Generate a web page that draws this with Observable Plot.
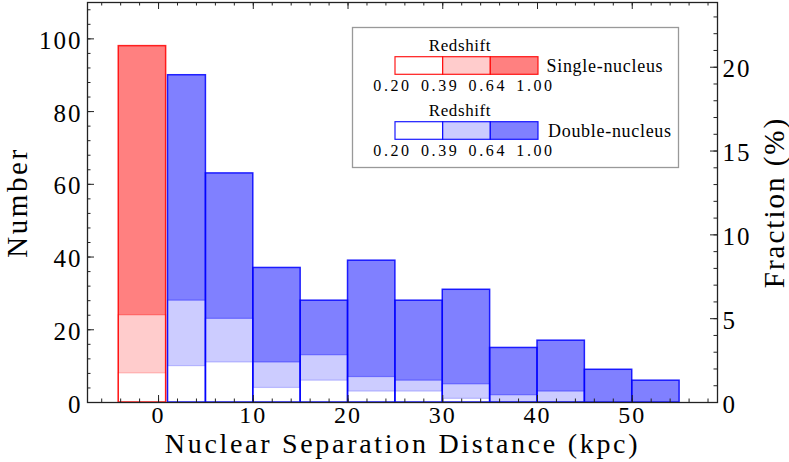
<!DOCTYPE html>
<html><head><meta charset="utf-8">
<script src="https://cdn.jsdelivr.net/npm/d3@7"></script>
<script src="https://cdn.jsdelivr.net/npm/@observablehq/plot@0.6"></script>
<style>
body{margin:0;background:#fff;}
#wrap{position:relative;width:789px;height:462px;}
#wrap svg.legend{position:absolute;left:0;top:0;pointer-events:none;}
</style></head><body><div id="wrap"></div>
<script>
// ---- data ----
const singleStart = [-4.2];
const singleEnd   = [0.8];
const singleAll   = [98];   // z < 1.00
const singleLt064 = [24];   // z < 0.64
const singleLt039 = [8];    // z < 0.39

const doubleStart = [1, 5, 10, 15, 20, 25, 30, 35, 40, 45, 50];
const doubleEnd   = [5, 10, 15, 20, 25, 30, 35, 40, 45, 50, 55];
const doubleAll   = [90, 63, 37, 28, 39, 28, 31, 15, 17, 9, 6];
const doubleLt064 = [28, 23, 11, 13, 7, 6, 5, 2, 3, 0, 0];
const doubleLt039 = [10, 11, 4, 6, 3, 3, 1, 0, 0, 0, 0];

const redshiftLabels = ["0.20", "0.39", "0.64", "1.00"];
const xTicks = [0, 10, 20, 30, 40, 50];
const xMinor = d3.range(-6, 59, 2);
const yTicks = [0, 20, 40, 60, 80, 100];
const yMinor = d3.range(0, 110, 4);
const fracTicks = [0, 5, 10, 15, 20];
const fracMinor = d3.range(0, 24, 1);
const xLabel = "Nuclear Separation Distance (kpc)";
const yLabel = "Number";
const y2Label = "Fraction (%)";

const TOTAL = d3.sum(singleAll) + d3.sum(doubleAll);
const rows = (s, e, c) => s.map((v, i) => ({x1: v, x2: e[i], y: c[i]}));

const W = 789, H = 462, mL = 87, mR = 72, mT = 2, mB = 60;
const PW = W - mL - mR, PH = H - mT - mB;
const FONT = "Liberation Serif, Times New Roman, serif";

const RED = "#ff0000", BLUE = "#0000ff";
function layer(data, fill, stroke, op) {
  return Plot.rectY(data, {x1: "x1", x2: "x2", y1: 0, y2: "y", fill, stroke, strokeWidth: 1.2, strokeOpacity: op});
}
const sAll = rows(singleStart, singleEnd, singleAll), sMid = rows(singleStart, singleEnd, singleLt064), sLow = rows(singleStart, singleEnd, singleLt039);
const dAll = rows(doubleStart, doubleEnd, doubleAll), dMid = rows(doubleStart, doubleEnd, doubleLt064), dLow = rows(doubleStart, doubleEnd, doubleLt039);

const tickStyle = {stroke: "#222", strokeWidth: 1};
const chart = Plot.plot({
  width: W, height: H, marginLeft: mL, marginRight: mR, marginTop: mT, marginBottom: mB,
  style: {fontFamily: FONT, fontSize: "25px", letterSpacing: "2px", color: "#000", background: "#fff"},
  x: {domain: [-7.5, 59]},
  y: {domain: [0, 110]},
  marks: [
    layer(sAll, "#ff8080", RED, 0),
    layer(dAll, "#8080ff", BLUE, 0),
    layer(sMid, "#ffcccc", RED, 0.35),
    layer(dMid, "#ccccff", BLUE, 0.35),
    layer(sLow.filter(d => d.y > 0), "#ffffff", RED, 0.2),
    layer(dLow.filter(d => d.y > 0), "#ffffff", BLUE, 0.2),
    Plot.rectY(sAll, {x1: "x1", x2: "x2", y1: 0, y2: "y", fill: "none", stroke: RED, strokeWidth: 1.5, strokeOpacity: 0.85}),
    Plot.rectY(dAll, {x1: "x1", x2: "x2", y1: 0, y2: "y", fill: "none", stroke: BLUE, strokeWidth: 1.5, strokeOpacity: 0.85}),
    // inward ticks
    Plot.tickX(xMinor, {x: d => d, insetTop: PH - 3.5, ...tickStyle}),
    Plot.tickX(xTicks, {x: d => d, insetTop: PH - 7, ...tickStyle}),
    Plot.tickX(xMinor, {x: d => d, insetBottom: PH - 3.5, ...tickStyle}),
    Plot.tickX(xTicks, {x: d => d, insetBottom: PH - 7, ...tickStyle}),
    Plot.tickY(yMinor, {y: d => d, insetRight: PW - 3.5, ...tickStyle}),
    Plot.tickY(yTicks, {y: d => d, insetRight: PW - 7, ...tickStyle}),
    Plot.tickY(fracMinor.map(f => f * TOTAL / 100), {y: d => d, insetLeft: PW - 3.5, ...tickStyle}),
    Plot.tickY(fracTicks.map(f => f * TOTAL / 100), {y: d => d, insetLeft: PW - 7, ...tickStyle}),
    Plot.frame({stroke: "#222", strokeWidth: 1.3}),
    Plot.axisX({ticks: xTicks, tickSize: 0, tickPadding: 3, fontSize: 24, label: null}),
    Plot.axisY({ticks: yTicks, tickSize: 0, tickPadding: 5, dy: 2, label: null}),
    Plot.axisY({anchor: "right", ticks: fracTicks.map(f => f * TOTAL / 100), tickFormat: d => String(Math.round(d * 100 / TOTAL)), tickSize: 0, tickPadding: 5, dy: 2, label: null}),
    Plot.text([xLabel], {text: d => d, frameAnchor: "bottom", dy: 50, lineAnchor: "bottom", fontSize: 28}),
    Plot.text([yLabel], {text: d => d, frameAnchor: "left", dx: -61, rotate: -90, lineAnchor: "bottom", textAnchor: "middle", fontSize: 29}),
    Plot.text([y2Label], {text: d => d, frameAnchor: "right", dx: 66, rotate: -90, lineAnchor: "bottom", textAnchor: "middle", fontSize: 29})
  ]
});
// widen the axis titles a little (Computer-Modern-like spacing)
d3.select(chart).selectAll("text").each(function () {
  const t = this.textContent;
  if (t === xLabel) d3.select(this).style("letter-spacing", "2.7px");
  if (t === yLabel) d3.select(this).style("letter-spacing", "2.6px");
});
const wrap = document.getElementById("wrap");
wrap.appendChild(chart);

// ---- legend overlay ----
const lg = d3.select(wrap).append("svg").attr("class", "legend").attr("width", W).attr("height", H)
  .style("font-family", FONT);
lg.append("rect").attr("x", 352.5).attr("y", 27.5).attr("width", 326).attr("height", 140)
  .attr("fill", "#fff").attr("stroke", "#999").attr("stroke-width", 1.3);
const groups = [
  {y: 0, fills: ["#ffffff", "#ffcccc", "#ff8080"], stroke: RED, name: "Single-nucleus", nx: 546.5},
  {y: 65, fills: ["#ffffff", "#ccccff", "#8080ff"], stroke: BLUE, name: "Double-nucleus", nx: 548}
];
const segX = [395, 442.7, 490.3, 538];
for (const g of groups) {
  const G = lg.append("g").attr("transform", `translate(0,${g.y})`);
  G.append("text").attr("x", 460).attr("y", 51).attr("text-anchor", "middle")
    .style("font-size", "17px").style("letter-spacing", "0.6px").text("Redshift");
  g.fills.forEach((f, i) => {
    G.append("rect").attr("x", segX[i]).attr("y", 56.7).attr("width", segX[i + 1] - segX[i]).attr("height", 17.6)
      .attr("fill", f).attr("stroke", g.stroke).attr("stroke-width", 1.2).attr("stroke-opacity", 0.9);
  });
  redshiftLabels.forEach((t, i) => {
    G.append("text").attr("x", segX[i] - 2.5).attr("y", 90.5).attr("text-anchor", "middle")
      .style("font-size", "16px").style("letter-spacing", "2.6px").text(t);
  });
  G.append("text").attr("x", g.nx).attr("y", 71.5).style("font-size", "18px").style("letter-spacing", "0.7px").text(g.name);
}
</script></body></html>
